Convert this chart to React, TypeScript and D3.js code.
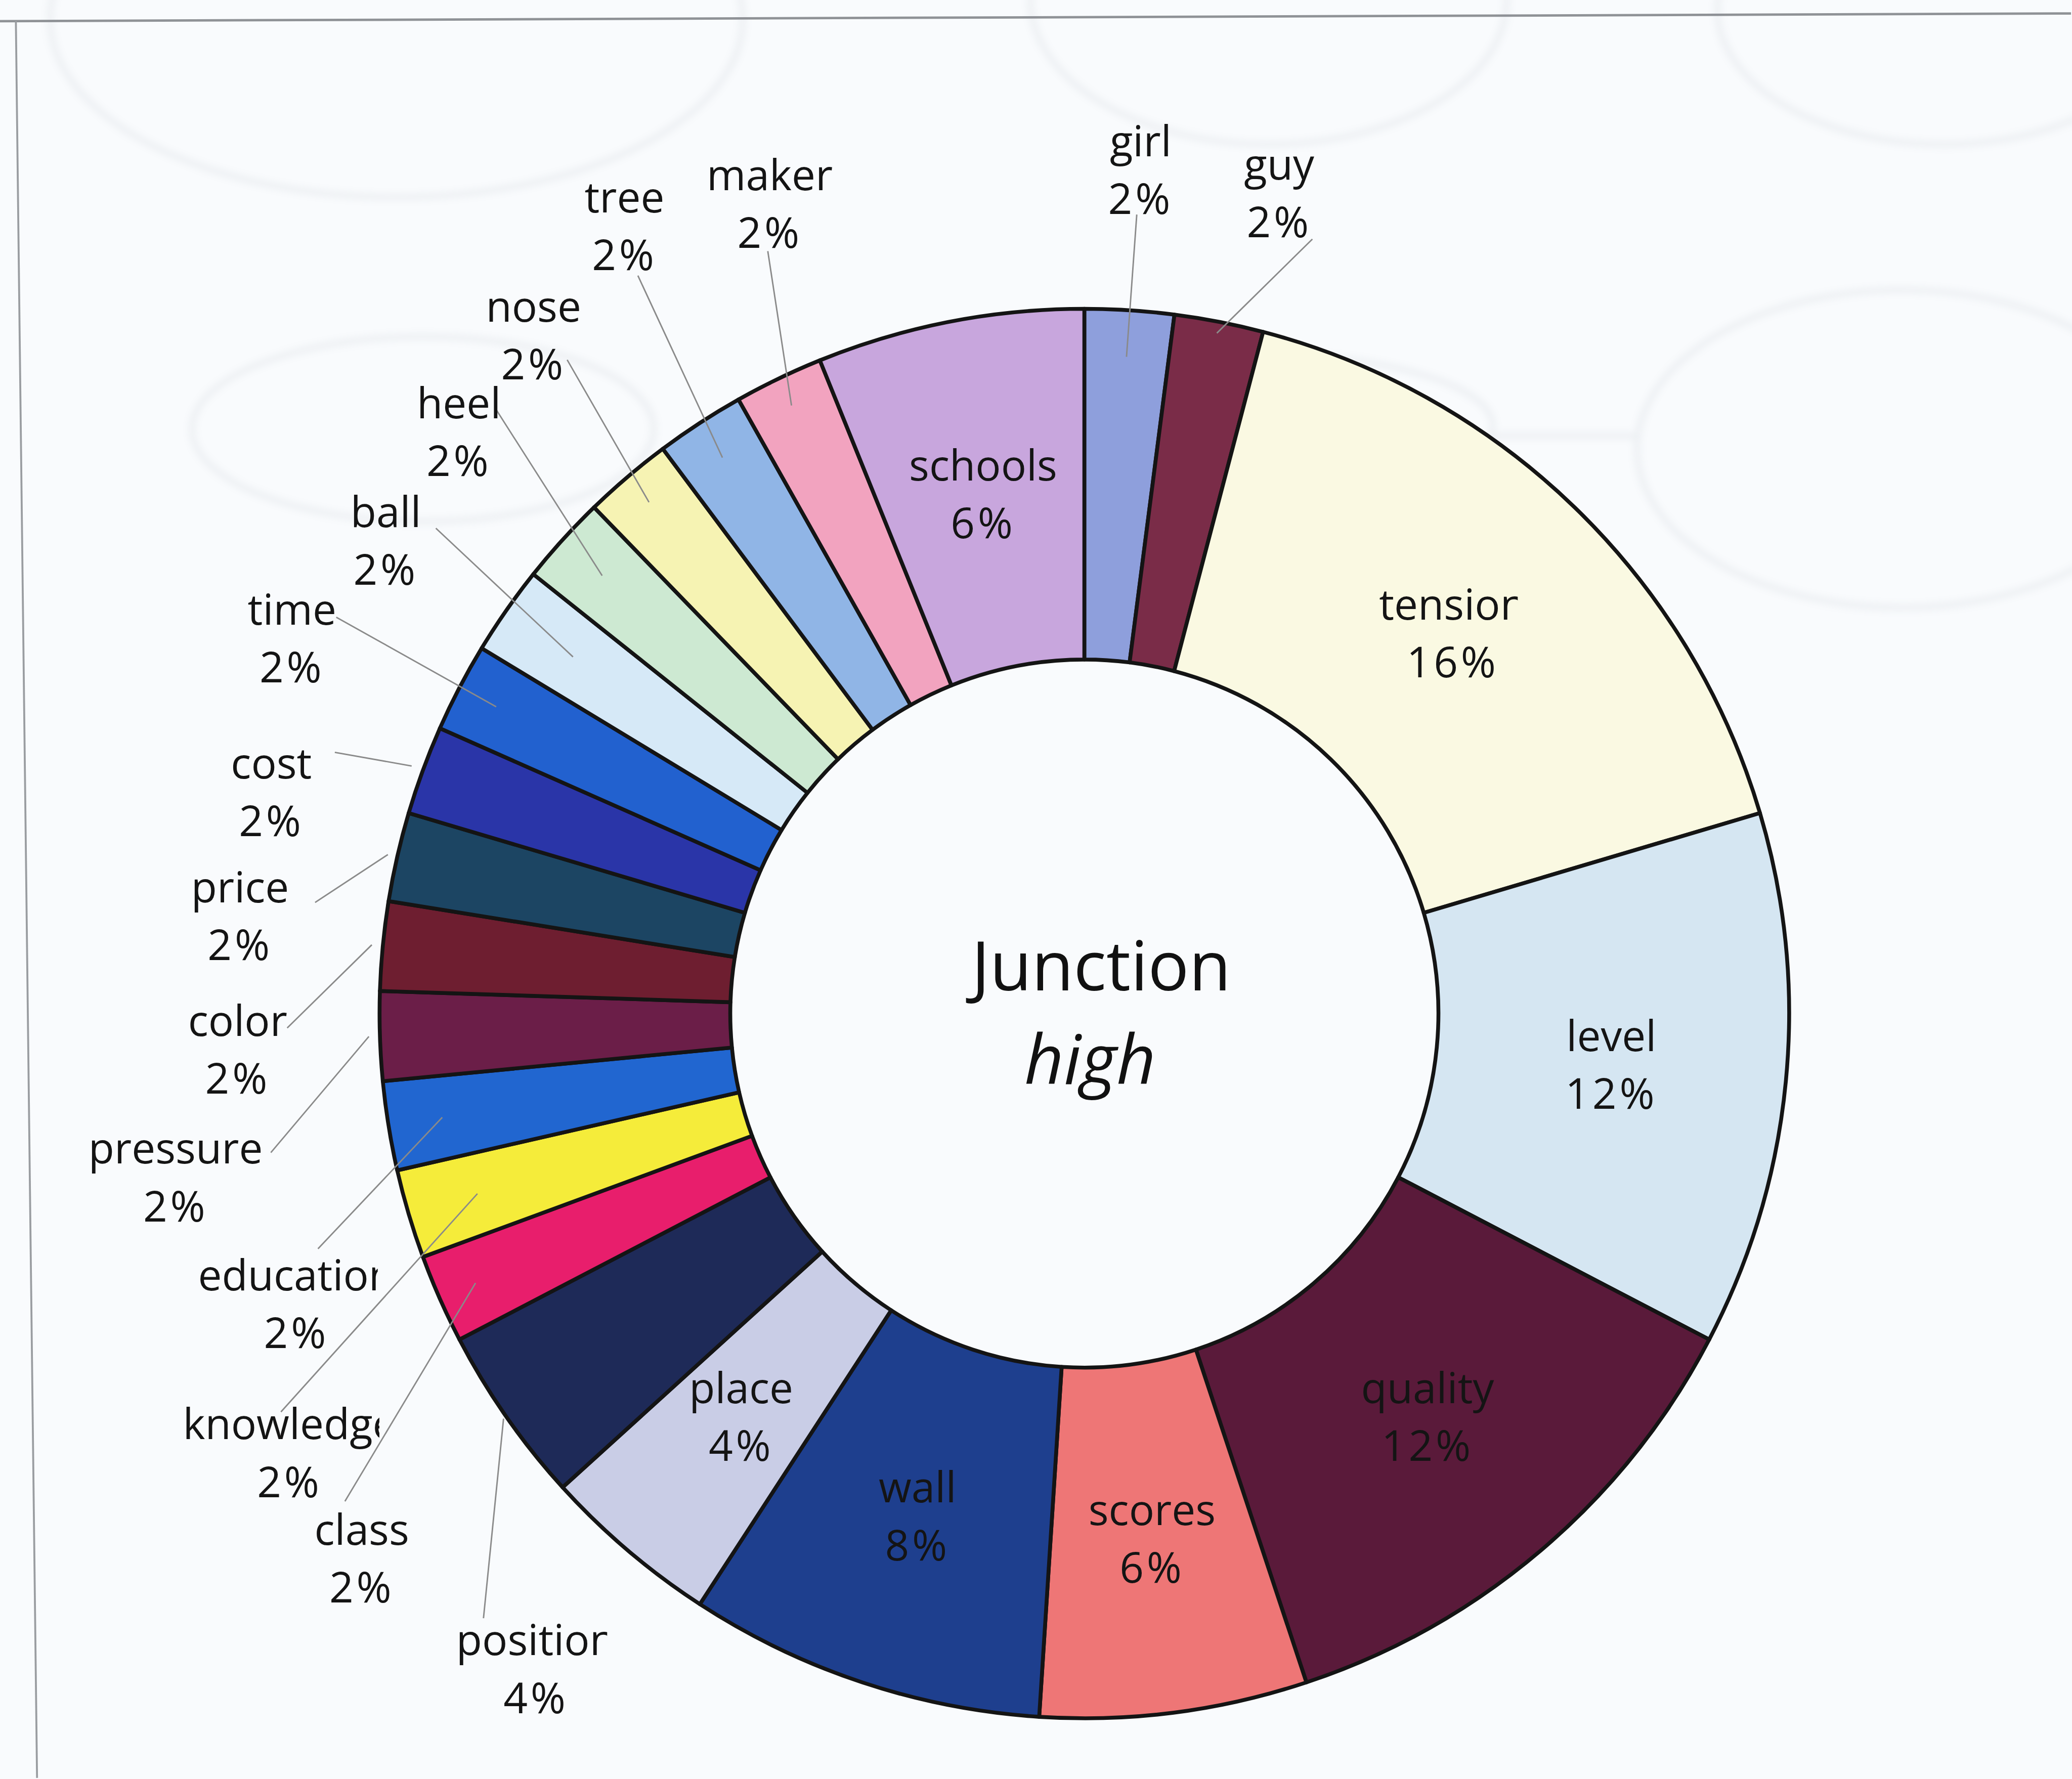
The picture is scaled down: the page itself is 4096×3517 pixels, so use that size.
'use client'
import { useEffect, useRef } from 'react'
import * as d3 from 'd3'

// answers for the adjective "high" (Junction group), 49 answers in total
const CATEGORIES = ['girl', 'guy', 'tension', 'level', 'quality', 'scores', 'wall', 'place', 'position', 'class', 'knowledge', 'education', 'pressure', 'color', 'price', 'cost', 'time', 'ball', 'heel', 'nose', 'tree', 'maker', 'schools']
const COUNTS = [1, 1, 8, 6, 6, 3, 4, 2, 2, 1, 1, 1, 1, 1, 1, 1, 1, 1, 1, 1, 1, 1, 3]
const COLORS = ['#8e9fdc', '#7a2c48', '#faf9e2', '#d5e6f2', '#5a1a3a', '#ee7676', '#1e3f8e', '#c9cde6', '#1e2a58', '#e81e6c', '#f5ec3a', '#2166d0', '#6b1e48', '#6e1e30', '#1c4563', '#2a35a8', '#2261cf', '#d6e9f7', '#cde9d2', '#f6f3b3', '#90b5e6', '#f2a3bf', '#c8a6dd']
const TITLE = 'Junction'
const SUBTITLE = 'high'

// labels drawn inside their slice
const INSIDE = new Set(['tension', 'level', 'quality', 'scores', 'wall', 'place', 'schools'])

// outside labels (reference px): anchor dx, dy from centre, leader start dx, dy from anchor, leader end radius
const OUTSIDE: Record<string, number[]> = {
  girl: [117, -1754, -8, 93, 1368],
  guy: [405, -1706, 69, 96, 1441],
  maker: [-654, -1684, -4, 99, 1403],
  tree: [-956, -1637, 28, 103, 1379],
  nose: [-1145, -1410, 70, 51, 1396],
  heel: [-1300, -1209, 77, -47, 1354],
  ball: [-1452, -983, 104, -26, 1296],
  time: [-1647, -780, 92, -44, 1379],
  cost: [-1690, -461, 132, -82, 1490],
  price: [-1755, -203, 156, -28, 1485],
  color: [-1760, 74, 103, -44, 1488],
  pressure: [-1889, 340, 198, -51, 1488],
  education: [-1638, 603, 45, -114, 1352],
  knowledge: [-1652, 913, -18, -85, 1316],
  class: [-1502, 1132, -35, -118, 1384],
  position: [-1140, 1362, -109, -105, 1472],
}
// words that the original label box cut off on the right (em hidden)
const CLIPPED: Record<string, number> = { tension: 0.2, education: 0.4, knowledge: 0.4, position: 0.2 }

// faint outlines of the printed page that show through the scan
const GHOST_OVALS: Array<[number, number, number, number]> = [
  [824, 40, 720, 370],
  [2637, 0, 495, 300],
  [4040, 20, 470, 280],
  [879, 892, 480, 192],
  [2581, 884, 522, 151],
  [3953, 933, 550, 330],
]

export default function App(): JSX.Element {
  const ref = useRef<HTMLDivElement>(null)

  useEffect(() => {
    const container = ref.current
    if (!container) return
    const W = 4096, H = 3517, K = 0.951
    const cx = 2254, cy = 2107, R = 1465, r0 = 736
    const FS = 88
    const font = "'Open Sans', 'DejaVu Sans', sans-serif"

    const svg = d3.create('svg')
      .attr('width', W).attr('height', H)
      .attr('viewBox', `0 0 ${W} ${H}`)
      .style('position', 'absolute').style('left', '0').style('top', '0')
    container.innerHTML = ''
    container.append(svg.node() as SVGSVGElement)

    const defs = svg.append('defs')
    defs.append('filter').attr('id', 'ghostblur')
      .attr('x', '-5%').attr('y', '-5%').attr('width', '110%').attr('height', '110%')
      .append('feGaussianBlur').attr('stdDeviation', 8)

    svg.append('rect').attr('width', W).attr('height', H).attr('fill', '#f9fbfd')
    const root = svg.append('g').attr('transform', `scale(${K})`)

    // page frame of the scan
    root.append('line').attr('x1', 0).attr('y1', 44).attr('x2', 4305).attr('y2', 28)
      .attr('stroke', '#8f9296').attr('stroke-width', 5)
    root.append('line').attr('x1', 33).attr('y1', 44).attr('x2', 77).attr('y2', 3696)
      .attr('stroke', '#9a9da1').attr('stroke-width', 4)

    const total = d3.sum(COUNTS)
    const pie = d3.pie<number>().sort(null).value(d => d)
    const arcs = pie(COUNTS)
    const arc = d3.arc<d3.PieArcDatum<number>>().innerRadius(r0).outerRadius(R)
    const fmt = (v: number) => `${Math.round(v / total * 100)}%`

    // show-through drawn first so that it stays faint
    const ghost = root.append('g')
      .attr('filter', 'url(#ghostblur)')
      .attr('opacity', 0.1)
    GHOST_OVALS.forEach(([ex, ey, rx, ry]) => {
      ghost.append('ellipse').attr('cx', ex).attr('cy', ey).attr('rx', rx).attr('ry', ry)
        .attr('fill', 'none').attr('stroke', '#7d8694').attr('stroke-width', 12)
    })
    ghost.append('line').attr('x1', 3102).attr('y1', 906).attr('x2', 3404).attr('y2', 906)
      .attr('stroke', '#7d8694').attr('stroke-width', 12)

    const g = root.append('g').attr('transform', `translate(${cx},${cy})`)
    g.selectAll('path.slice').data(arcs).join('path')
      .attr('class', 'slice')
      .attr('d', arc as any)
      .attr('fill', (_d, i) => COLORS[i])
      .attr('stroke', '#141414')
      .attr('stroke-width', 8)
      .attr('stroke-linejoin', 'round')

    // leader lines
    arcs.forEach((d, i) => {
      const o = OUTSIDE[CATEGORIES[i]]
      if (!o) return
      const mid = (d.startAngle + d.endAngle) / 2
      g.append('line')
        .attr('x1', o[0] + o[2]).attr('y1', o[1] + o[3])
        .attr('x2', Math.sin(mid) * o[4]).attr('y2', -Math.cos(mid) * o[4])
        .attr('stroke', '#8a8a8a').attr('stroke-width', 3)
    })

    // labels
    arcs.forEach((d, i) => {
      const name = CATEGORIES[i]
      let x: number, y: number
      if (INSIDE.has(name)) {
        [x, y] = arc.centroid(d)
      } else {
        x = OUTSIDE[name][0]; y = OUTSIDE[name][1]
      }
      const nameText = g.append('text')
        .attr('x', x).attr('y', y - 28)
        .attr('text-anchor', 'middle')
        .attr('font-family', font).attr('font-size', FS).attr('font-weight', 500)
        .attr('fill', '#141414')
        .text(name)
      g.append('text')
        .attr('x', x).attr('y', y + 92)
        .attr('text-anchor', 'middle')
        .attr('font-family', font).attr('font-size', FS).attr('font-weight', 500)
        .attr('letter-spacing', 6)
        .attr('fill', '#141414')
        .text(fmt(d.value))
      if (CLIPPED[name] !== undefined) {
        const bb = (nameText.node() as SVGTextElement).getBBox()
        const id = `clip-${name}`
        defs.append('clipPath').attr('id', id)
          .append('rect')
          .attr('x', bb.x - 10).attr('y', bb.y - 10)
          .attr('width', bb.width + 10 - CLIPPED[name] * FS)
          .attr('height', bb.height + 20)
        nameText.attr('clip-path', `url(#${id})`)
      }
    })

    // centre text
    g.append('text').attr('x', 35).attr('y', -48)
      .attr('text-anchor', 'middle')
      .attr('font-family', font).attr('font-size', 142).attr('font-weight', 500)
      .attr('fill', '#111').text(TITLE)
    g.append('text').attr('x', 12).attr('y', 146)
      .attr('text-anchor', 'middle')
      .attr('font-family', font).attr('font-size', 142).attr('font-style', 'italic').attr('font-weight', 500)
      .attr('fill', '#111').text(SUBTITLE)
  }, [])

  return <div ref={ref} />
}
